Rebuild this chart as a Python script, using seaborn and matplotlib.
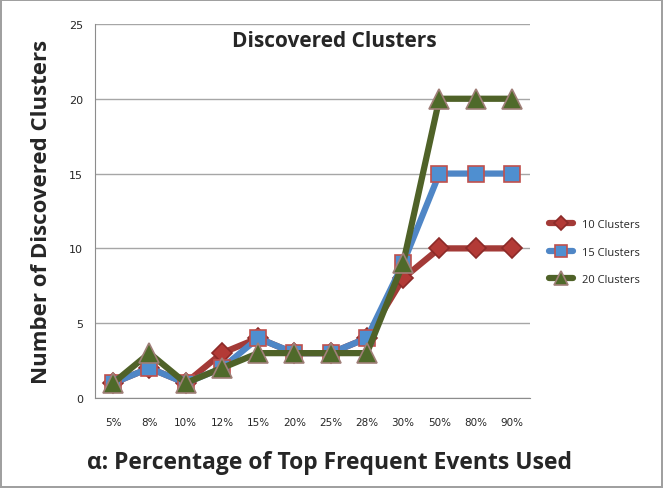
import matplotlib
matplotlib.use("Agg")
import matplotlib.pyplot as plt
import pandas as pd
import seaborn as sns

# Data
pct_labels = ["5%", "8%", "10%", "12%", "15%", "20%", "25%", "28%", "30%", "50%", "80%", "90%"]
clusters_10 = [1, 2, 1, 3, 4, 3, 3, 4, 8, 10, 10, 10]
clusters_15 = [1, 2, 1, 2, 4, 3, 3, 4, 9, 15, 15, 15]
clusters_20 = [1, 3, 1, 2, 3, 3, 3, 3, 9, 20, 20, 20]
series_names = ["10 Clusters", "15 Clusters", "20 Clusters"]

sns.set_style("white")
plt.rcParams["font.family"] = ["Open Sans", "DejaVu Sans"]

fig = plt.figure(figsize=(6.63, 4.89), dpi=100)
fig.patch.set_edgecolor("#a0a0a0")
fig.patch.set_linewidth(1.5)
ax = fig.add_axes([0.1433, 0.184, 0.6561, 0.765])

# style for each series: line colour, marker, marker face, marker edge
styles = [
    ("#a33a37", "D", "#b33a36", "#8c2a28", 10),
    ("#4f86c6", "s", "#4f8fd0", "#c0504d", 12),
    ("#4f6228", "^", "#4f6a2a", "#a07f78", 14),
]

for name, vals, (lc, mk, mfc, mec, ms) in zip(
    series_names, [clusters_10, clusters_15, clusters_20], styles
):
    df = pd.DataFrame({"pct": pct_labels, "n": vals})
    sns.lineplot(
        data=df,
        x="pct",
        y="n",
        ax=ax,
        color=lc,
        linewidth=4.5,
        marker=mk,
        markersize=ms,
        markerfacecolor=mfc,
        markeredgecolor=mec,
        markeredgewidth=1.2,
        label=name,
        sort=False,
    )

ax.set_ylim(0, 25)
ax.set_xlim(-0.5, len(pct_labels) - 0.5)
ax.set_yticks([0, 5, 10, 15, 20, 25])
ax.yaxis.grid(True, color="#a6a6a6", linewidth=1)
ax.set_axisbelow(True)

for side in ["top", "right"]:
    ax.spines[side].set_visible(False)
for side in ["left", "bottom"]:
    ax.spines[side].set_color("#8c8c8c")

# Excel-style tick marks between categories
ax.set_xticks(range(len(pct_labels)))
ax.set_xticklabels(pct_labels, family="DejaVu Sans", fontsize=7.5)
ax.tick_params(axis="x", length=0, pad=14)
ax.set_xticks([i - 0.5 for i in range(len(pct_labels) + 1)], minor=True)
ax.tick_params(axis="x", which="minor", length=5, color="#8c8c8c", direction="out")
ax.tick_params(axis="y", length=5, color="#8c8c8c", direction="out", labelsize=8)
for t in ax.get_yticklabels():
    t.set_family("DejaVu Sans")

ax.set_xlabel("α: Percentage of Top Frequent Events Used", fontsize=16.5, fontweight="bold")
ax.xaxis.set_label_coords(0.54, -0.14)
ax.set_ylabel("Number of Discovered Clusters", fontsize=16, fontweight="bold", labelpad=12)
ax.text(0.55, 0.985, "Discovered Clusters", transform=ax.transAxes, ha="center", va="top",
        fontsize=15, fontweight="bold")

ax.legend(loc="center left", bbox_to_anchor=(1.02, 0.39), frameon=False, fontsize=8,
          handlelength=2.2, labelspacing=1.5, markerscale=0.7)

fig.savefig("out.png", dpi=100)
